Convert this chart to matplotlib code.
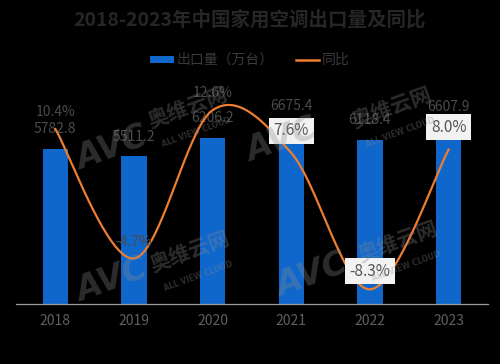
import numpy as np
import matplotlib
matplotlib.use("Agg")
import matplotlib.pyplot as plt
from matplotlib.patches import Patch
from matplotlib.lines import Line2D

plt.rcParams['font.family'] = ['Noto Sans CJK SC', 'DejaVu Sans']

years = ["2018", "2019", "2020", "2021", "2022", "2023"]
exports = [5782.8, 5511.2, 6206.2, 6675.4, 6118.4, 6607.9]
yoy = [10.4, -4.7, 12.6, 7.6, -8.3, 8.0]
boxed = [False, False, False, True, True, True]

title = "2018-2023年中国家用空调出口量及同比"
bar_label = "出口量（万台）"
line_label = "同比"

BLUE = "#0F67CC"
ORANGE = "#ED7D31"
LABEL = "#4a4a4a"

fig = plt.figure(figsize=(5.0, 3.64), dpi=100, facecolor="black")
ax = fig.add_axes([0.032, 0.165, 0.944, 0.589])
ax.set_facecolor("black")
ax2 = ax.twinx()

x = np.arange(len(years))
ax.bar(x, exports, width=0.32, color=BLUE, zorder=2)
ax.set_xlim(-0.5, len(years) - 0.5)
ax.set_ylim(0, 8000)
ax2.set_ylim(-10, 15)

# Catmull-Rom smoothing (Excel-like smoothed line)
px = np.array(x, dtype=float)
py = np.array(yoy, dtype=float)
P = np.column_stack([px, py])
P_ext = np.vstack([P[0], P, P[-1]])
xs, ys = [], []
for i in range(len(P) - 1):
    p0, p1, p2, p3 = P_ext[i], P_ext[i + 1], P_ext[i + 2], P_ext[i + 3]
    c1 = p1 + (p2 - p0) / 6.0
    c2 = p2 - (p3 - p1) / 6.0
    t = np.linspace(0, 1, 40)[:, None]
    seg = ((1 - t) ** 3) * p1 + 3 * ((1 - t) ** 2) * t * c1 + 3 * (1 - t) * t ** 2 * c2 + t ** 3 * p2
    xs.extend(seg[:, 0]); ys.extend(seg[:, 1])
ax2.plot(xs, ys, color=ORANGE, lw=1.6, zorder=3)

for a in (ax, ax2):
    for s in a.spines.values():
        s.set_visible(False)
    a.set_yticks([])
ax.spines['bottom'].set_visible(True)
ax.spines['bottom'].set_color("#9a9a9a")
ax.spines['bottom'].set_linewidth(0.9)
ax.set_xticks(x)
ax.set_xticklabels(years, color="#5f5f5f", fontsize=10)
ax.tick_params(axis='x', length=0, pad=7)

# watermark
wm = dict(color="#8a8a8a", alpha=0.32, rotation=20, zorder=2.5, ha="center", va="center")
for (ax_, ay_), (bx_, by_) in [((112, 148), (188, 108)), ((282, 140), (392, 108)),
                               ((112, 280), (190, 252)), ((312, 275), (398, 242))]:
    fig.text(ax_ / 500, 1 - ay_ / 364, "AVC", fontsize=24, fontweight="bold", style="italic",
             family="DejaVu Sans", **wm)
    fig.text(bx_ / 500, 1 - by_ / 364, "奥维云网", fontsize=15, fontweight="bold", **wm)
    fig.text((bx_ + 8) / 500, 1 - (by_ + 24) / 364, "ALL VIEW CLOUD", fontsize=5.5,
             fontweight="bold", family="DejaVu Sans", **wm)

# bar value labels
for xi, v in zip(x, exports):
    ax.annotate(f"{v:.1f}", (xi, v), xytext=(0, 9), textcoords="offset points",
                ha="center", va="bottom", fontsize=10, color=LABEL, zorder=4)

# percent labels
for xi, v, b in zip(x, yoy, boxed):
    if b:
        ax2.annotate(f"{v:.1f}%", (xi, v), xytext=(0, 10 if v > 0 else 7), textcoords="offset points",
                     ha="center", va="bottom", fontsize=11, color="#555555", zorder=5,
                     bbox=dict(boxstyle="square,pad=0.3", fc="#f2f2f2", ec="none"))
    else:
        ax2.annotate(f"{v:.1f}%", (xi, v), xytext=(0, 7), textcoords="offset points",
                     ha="center", va="bottom", fontsize=10, color=LABEL, zorder=4)

fig.text(0.5, 1 - 20 / 364, title, ha="center", va="center", fontsize=14,
         fontweight="bold", color="#262626")

handles = [Patch(facecolor=BLUE, edgecolor="none", label=bar_label),
           Line2D([0], [0], color=ORANGE, lw=1.8, label=line_label)]
leg = fig.legend(handles=handles, loc="center", bbox_to_anchor=(0.5, 1 - 60 / 364), ncol=2,
                 frameon=False, fontsize=10, handlelength=1.7, handleheight=0.4,
                 handletextpad=0.2, columnspacing=1.6)
for t in leg.get_texts():
    t.set_color("#3a3a3a")

fig.savefig("out.png", dpi=100, facecolor="black")
